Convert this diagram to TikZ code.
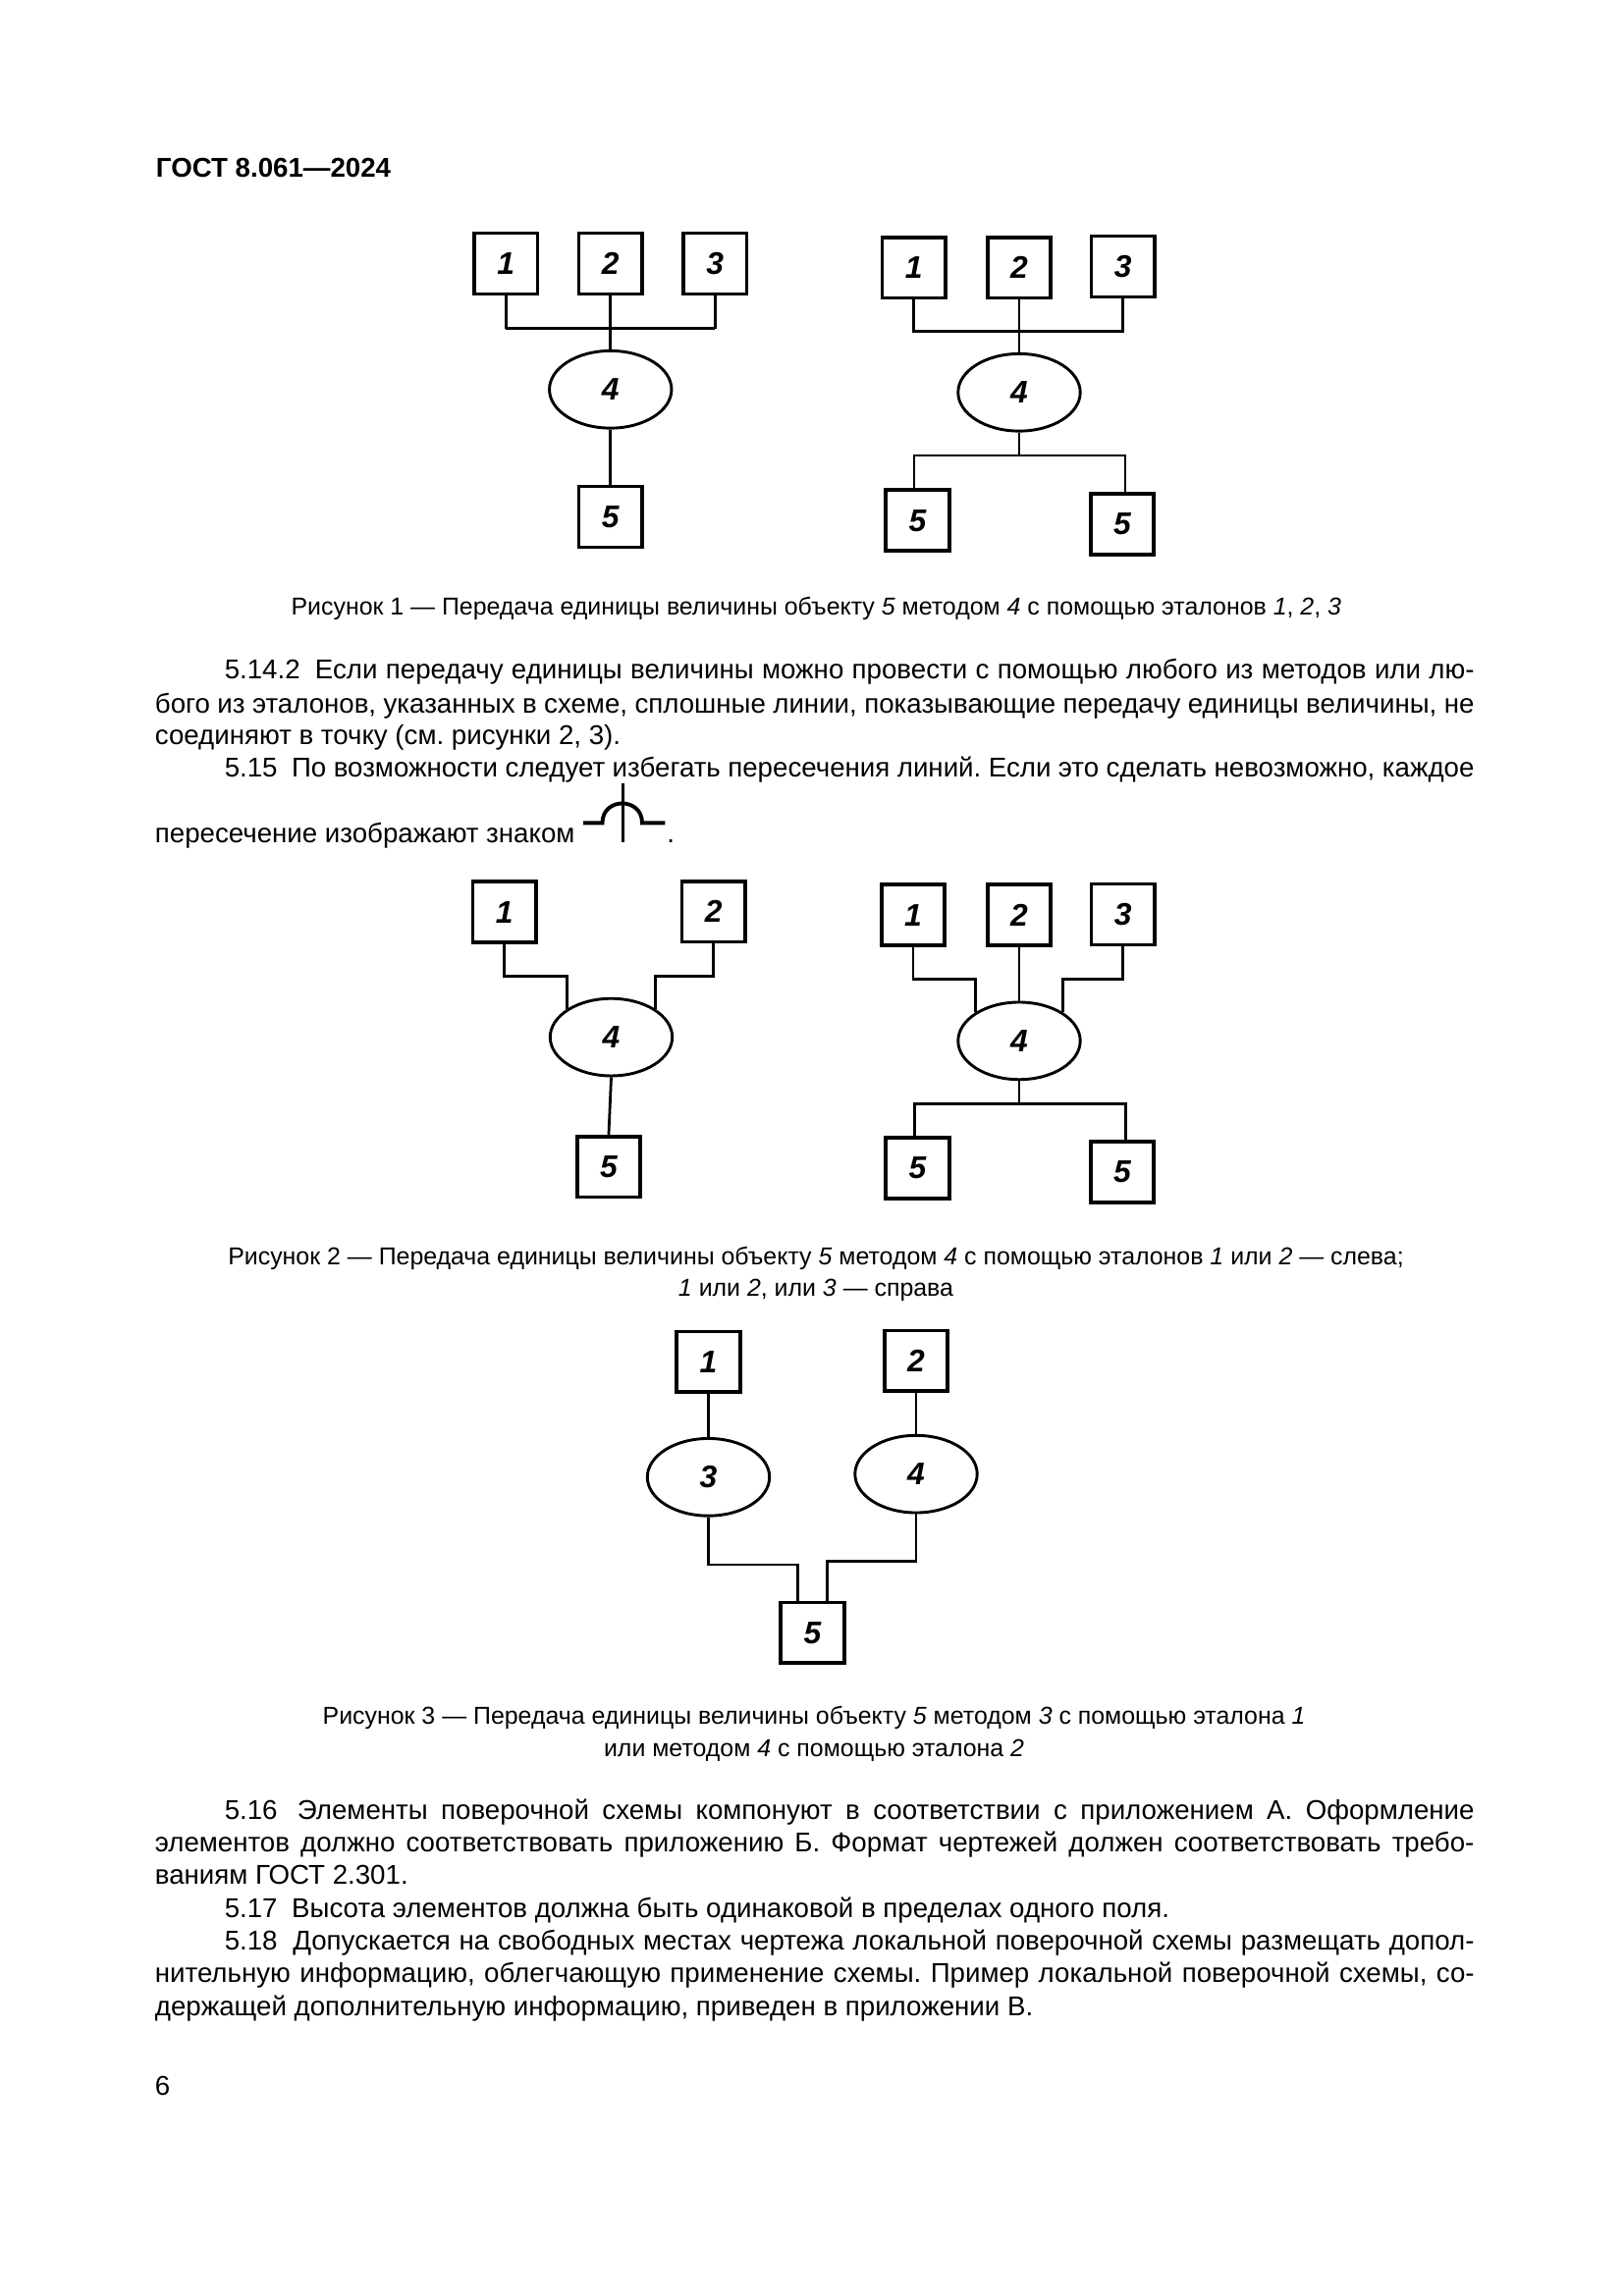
\documentclass[tikz,border=0pt]{standalone}
\usepackage{fontspec}
\setmainfont{Liberation Sans}
\usetikzlibrary{shapes.geometric}
\frenchspacing
\newlength{\tw}\setlength{\tw}{170.65mm}
\newcommand{\jl}[1]{\hbox to \tw{#1}}
\newcommand{\jli}[1]{\hbox to \tw{\hskip 9mm #1}}
\newcommand{\nsp}{\hskip 0.25em\ }
\begin{document}
\begin{tikzpicture}[x=0.1905mm,y=-0.1905mm,
  box/.style={draw, line width=1.35pt, minimum width=8.2mm, minimum height=7.85mm, inner sep=0pt, font=\fontsize{11.5}{12}\selectfont\bfseries\itshape},
  oval/.style={ellipse, draw, line width=1.05pt, minimum width=15.8mm, minimum height=10mm, inner sep=0pt, font=\fontsize{11.5}{12}\selectfont\bfseries\itshape},
  wire/.style={line width=1pt},
  bus/.style={line width=1.4pt},
  sym/.style={line width=1.4pt},
  txt/.style={anchor=base west, inner sep=0pt, font=\fontsize{10}{12}\selectfont},
  hdr/.style={anchor=base west, inner sep=0pt, font=\fontsize{10}{12}\selectfont\bfseries},
  figcap/.style={anchor=base, inner sep=0pt, font=\fontsize{9}{11}\selectfont}]
\fill[white] (0,0) rectangle (1102.667,1559.333);
\useasboundingbox (0,0) rectangle (1102.667,1559.333);

% header
\node[hdr] (hd) at (105.6,120) {ГОСТ 8.061—2024};

% ---------- Figure 1 left
\node[box] (b11) at (343.5,179) {1};
\node[box] (b12) at (414.5,179) {2};
\node[box] (b13) at (485.5,179) {3};
\node[oval] (e14) at (414.5,264.5) {4};
\node[box] (b15) at (414.5,351) {5};
\coordinate (j1) at (414.5,223);
\draw[wire] (b11.south) -- (b11.south |- j1);
\draw[wire] (b13.south) -- (b13.south |- j1);
\draw[bus] (b11.south |- j1) -- (b13.south |- j1);
\draw[wire] (b12.south) -- (e14.north);
\draw[wire] (e14.south) -- (b15.north);

% ---------- Figure 1 right
\node[box] (b21) at (620.5,181.7) {1};
\node[box] (b22) at (692,181.7) {2};
\node[box] (b23) at (762.5,181) {3};
\node[oval] (e24) at (692,266.5) {4};
\node[box] (b25) at (623,353.5) {5};
\node[box] (b26) at (762,356) {5};
\coordinate (j2) at (692,225);
\draw[wire] (b21.south) |- (j2) -| (b23.south);
\draw[wire] (b22.south) -- (e24.north);
\coordinate (j3) at (692,309.3);
\coordinate (j3l) at (620.6,309.3);
\coordinate (j3r) at (764,309.3);
\draw[wire] (e24.south) -- (j3);
\draw[wire] (j3l |- b25.north) -- (j3l) -- (j3r) -- (j3r |- b26.north);

% ---------- Figure 1 caption
\node[figcap] (c1) at (554.2,417.8) {Рисунок 1 — Передача единицы величины объекту \textit{5} методом \textit{4} с помощью эталонов \textit{1}, \textit{2}, \textit{3}};

% ---------- paragraph 5.14.2
\node[txt] (p1) at (104.9,461.1) {\jli{5.14.2\nsp Если передачу единицы величины можно провести с помощью любого из методов или лю-}};
\node[txt] (p2) at (104.9,484.0) {\jl{бого из эталонов, указанных в схеме, сплошные линии, показывающие передачу единицы величины, не}};
\node[txt] (p3) at (104.9,505.8) {соединяют в точку (см. рисунки 2, 3).};
\node[txt] (p4) at (104.9,527.8) {\jli{5.15\nsp По возможности следует избегать пересечения линий. Если это сделать невозможно, каждое}};
\node[txt] (p5) at (104.9,572.2) {пересечение изображают знаком};
\node[txt] (p6) at (452.5,572.2) {.};
% crossing sign
\draw[sym] (396,558.9) -- (409,558.9) .. controls (409,541.2) and (436,541.2) .. (436,558.9) -- (451.6,558.9);
\draw[sym] (423,532.2) -- (423,572.2);

% ---------- Figure 2 left
\node[box] (b31) at (342.5,619.4) {1};
\node[box] (b32) at (484.5,619.1) {2};
\node[oval] (e34) at (415,704.4) {4};
\node[box] (b35) at (413.3,792.4) {5};
\draw[wire] (b31.south) |- (e34.147 |- 0,662.9) -- (e34.147);
\draw[wire] (b32.south) |- (e34.33 |- 0,662.9) -- (e34.33);
\draw[wire] (e34.south) -- (b35.north);

% ---------- Figure 2 right
\node[box] (b41) at (620,621.4) {1};
\node[box] (b42) at (692,621.4) {2};
\node[box] (b43) at (762.5,621) {3};
\node[oval] (e44) at (692,706.9) {4};
\node[box] (b45) at (623,793.2) {5};
\node[box] (b46) at (762,796) {5};
\draw[wire] (b41.south) |- (e44.147 |- 0,665) -- (e44.147);
\draw[wire] (b42.south) -- (e44.north);
\draw[wire] (b43.south) |- (e44.33 |- 0,665) -- (e44.33);
\coordinate (j4) at (692,749.6);
\coordinate (j4l) at (621,749.6);
\coordinate (j4r) at (764.3,749.6);
\draw[wire] (e44.south) -- (j4);
\draw[wire] (j4l |- b45.north) -- (j4l) -- (j4r) -- (j4r |- b46.north);

% ---------- Figure 2 caption
\node[figcap] (c2a) at (554,859) {Рисунок 2 — Передача единицы величины объекту \textit{5} методом \textit{4} с помощью эталонов \textit{1} или \textit{2} — слева;};
\node[figcap] (c2b) at (554,880) {\textit{1} или \textit{2}, или \textit{3} — справа};

% ---------- Figure 3
\node[box] (b51) at (481,924.9) {1};
\node[box] (b52) at (622,924.2) {2};
\node[oval] (e53) at (481,1003.2) {3};
\node[oval] (e54) at (622,1001.1) {4};
\node[box] (b55) at (551.7,1108.9) {5};
\draw[wire] (b51.south) -- (e53.north);
\draw[wire] (b52.south) -- (e54.north);
\draw[wire] (e53.south) |- (541.8,1062.7) -- (b55.north -| 541.8,0);
\draw[wire] (e54.south) |- (561.8,1060.4) -- (b55.north -| 561.8,0);

% ---------- Figure 3 caption
\node[figcap] (c3a) at (552.7,1171) {Рисунок 3 — Передача единицы величины объекту \textit{5} методом \textit{3} с помощью эталона \textit{1}};
\node[figcap] (c3b) at (552.7,1193) {или методом \textit{4} с помощью эталона \textit{2}};

% ---------- paragraphs 5.16 - 5.18
\node[txt] (q1) at (104.9,1235.5) {\jli{5.16\nsp Элементы поверочной схемы компонуют в соответствии с приложением А. Оформление}};
\node[txt] (q2) at (104.9,1257.7) {\jl{элементов должно соответствовать приложению Б. Формат чертежей должен соответствовать требо-}};
\node[txt] (q3) at (104.9,1279.9) {ваниям ГОСТ 2.301.};
\node[txt] (q4) at (104.9,1302.1) {\hskip 9mm 5.17\nsp Высота элементов должна быть одинаковой в пределах одного поля.};
\node[txt] (q5) at (104.9,1324.3) {\jli{5.18\nsp Допускается на свободных местах чертежа локальной поверочной схемы размещать допол-}};
\node[txt] (q6) at (104.9,1346.5) {\jl{нительную информацию, облегчающую применение схемы. Пример локальной поверочной схемы, со-}};
\node[txt] (q7) at (104.9,1368.7) {держащей дополнительную информацию, приведен в приложении В.};

% page number
\node[txt] (pg) at (104.9,1423.3) {6};
\end{tikzpicture}
\end{document}
